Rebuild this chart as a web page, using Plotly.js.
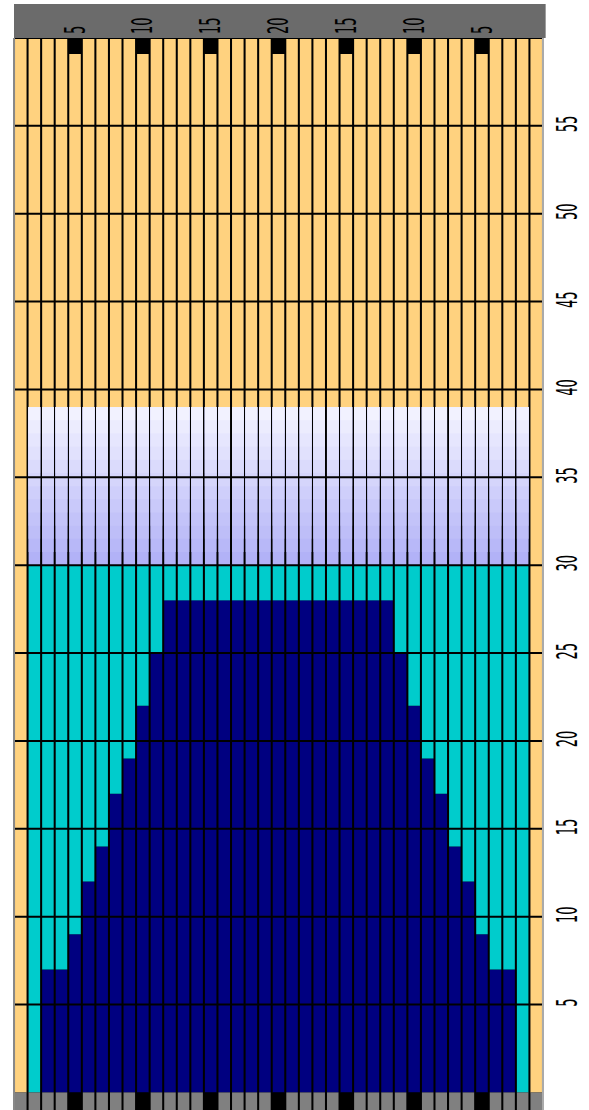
<!DOCTYPE html>
<html>
<head>
<meta charset="utf-8">
<script src="https://cdn.plot.ly/plotly-3.0.1.min.js"></script>
<style>html,body{margin:0;padding:0;background:#fff;}#chart{width:589px;height:1110px;}</style>
</head>
<body>
<div id="chart"></div>
<script>
// ---- data ----
const columns = [1,2,3,4,5,6,7,8,9,10,11,12,13,14,15,16,17,18,19,20,21,22,23,24,25,26,27,28,29,30,31,32,33,34,35,36,37,38,39];
const navyHeight = [0,0,7,7,9,12,14,17,19,22,25,28,28,28,28,28,28,28,28,28,28,28,28,28,28,28,28,28,25,22,19,17,14,12,9,7,7,0,0];
const cyanLevel = [0,30,30,30,30,30,30,30,30,30,30,30,30,30,30,30,30,30,30,30,30,30,30,30,30,30,30,30,30,30,30,30,30,30,30,30,30,30,0];
const lavenderLevel = [0,39,39,39,39,39,39,39,39,39,39,39,39,39,39,39,39,39,39,39,39,39,39,39,39,39,39,39,39,39,39,39,39,39,39,39,39,39,0];
const topLevel = [60,60,60,60,60,60,60,60,60,60,60,60,60,60,60,60,60,60,60,60,60,60,60,60,60,60,60,60,60,60,60,60,60,60,60,60,60,60,60];
const tickColumns = [5,10,15,20,25,30,35];
const tickLabels = ['5','10','15','20','15','10','5'];
const valueTicks = [5,10,15,20,25,30,35,40,45,50,55];

// ---- styles ----
const YELLOW = '#FFD27F', CYAN = '#00CCCC', NAVY = '#000080';
const LAV_BOTTOM = [178,178,247], LAV_TOP = [242,242,255];
const BANDS = 12;

const common = {type:'bar', x:columns, hoverinfo:'skip', showlegend:false};
const traces = [];
const below = columns.map((c,i)=>Math.max(navyHeight[i], cyanLevel[i], lavenderLevel[i]));
// navy
traces.push(Object.assign({}, common, {y:navyHeight, base:columns.map(()=>0), marker:{color:NAVY, line:{width:0}}}));
// cyan from navy top up to water level
traces.push(Object.assign({}, common, {base:navyHeight, y:cyanLevel.map((c,i)=>Math.max(0,c-navyHeight[i])), marker:{color:CYAN, line:{width:0}}}));
// lavender gradient bands, each spans from its base up to the lavender level (upper bands overlap lower ones)
for (let b=0;b<BANDS;b++){
  const t = b/(BANDS-1);
  const col = 'rgb(' + LAV_BOTTOM.map((v,k)=>Math.round(v+(LAV_TOP[k]-v)*t)).join(',') + ')';
  const bases = lavenderLevel.map((l,i)=>cyanLevel[i] + Math.max(0,l-cyanLevel[i])*b/BANDS);
  traces.push(Object.assign({}, common, {
    base: bases,
    y: lavenderLevel.map((l,i)=>Math.max(0, l - bases[i])),
    marker:{color:col, line:{width:0}}}));
}
// yellow above everything
traces.push(Object.assign({}, common, {base:below, y:topLevel.map((v,i)=>v-below[i]), marker:{color:YELLOW, line:{width:0}}}));
// bottom strip cells
traces.push(Object.assign({}, common, {y:columns.map(()=>1), base:columns.map(()=>-1),
  marker:{color:columns.map(c=>tickColumns.indexOf(c)>=0?'#000000':'#808080'), line:{width:0}}}));

const shapes = [];
valueTicks.concat([60]).forEach(v=>{
  shapes.push({type:'line', xref:'paper', x0:0, x1:1, yref:'y', y0:v, y1:v, line:{color:'#000', width:2}, layer:'above'});
});
shapes.push({type:'rect', xref:'paper', x0:0, x1:1.005, yref:'paper', y0:1, y1:1+34/1072, fillcolor:'#6B6B6B', line:{width:0}, layer:'below'});
shapes.push({type:'line', xref:'paper', x0:0, x1:0, yref:'paper', y0:0, y1:1, line:{color:'#888', width:2}, layer:'above'});
shapes.push({type:'line', xref:'paper', x0:1, x1:1, yref:'paper', y0:0, y1:1, line:{color:'#AAA', width:2}, layer:'above'});

const layout = {
  width:589, height:1110,
  margin:{l:14, r:46, t:38, b:0, pad:0},
  paper_bgcolor:'#FFFFFF', plot_bgcolor:'#000000',
  barmode:'overlay', bargap:0.15,
  showlegend:false,
  font:{family:'DejaVu Sans, Verdana, sans-serif', color:'#000', size:13},
  xaxis:{type:'linear', range:[0.5,39.5], side:'top', tickmode:'array', tickvals:tickColumns, ticktext:tickLabels,
         tickangle:-90, ticks:'inside', ticklen:16, tickwidth:13, tickcolor:'#000', showgrid:false, zeroline:false, showline:false,
         tickfont:{size:13, color:'#000'}, fixedrange:true},
  yaxis:{range:[-1,60], side:'right', tickmode:'array', tickvals:valueTicks, tickangle:-90, ticks:'', showgrid:false, zeroline:false,
         showline:false, tickfont:{size:13, color:'#000'}, fixedrange:true},
  shapes:shapes
};

function stretchLabels(selector, sx, targetCx, targetBottom){
  document.querySelectorAll(selector).forEach(t=>{
    const orig = t.getAttribute('transform') || '';
    const M = t.parentNode.getScreenCTM();
    const r = t.getBoundingClientRect();
    const cx = ((r.left + r.width/2) - M.e) / M.a;
    const tx = (targetCx === null) ? cx : (targetCx - M.e) / M.a;
    let dy = 0;
    if (targetBottom !== null) dy = (targetBottom - r.bottom) / M.d;
    t.setAttribute('transform', 'translate(' + tx + ',' + dy + ') scale(' + sx + ',1) translate(' + (-cx) + ',0) ' + orig);
  });
}

Plotly.newPlot('chart', traces, layout, {staticPlot:true, displayModeBar:false}).then(()=>{
  stretchLabels('.xtick text', 2.2, null, 34);
  stretchLabels('.ytick text', 2.2, 567, null);
});
</script>
</body>
</html>
